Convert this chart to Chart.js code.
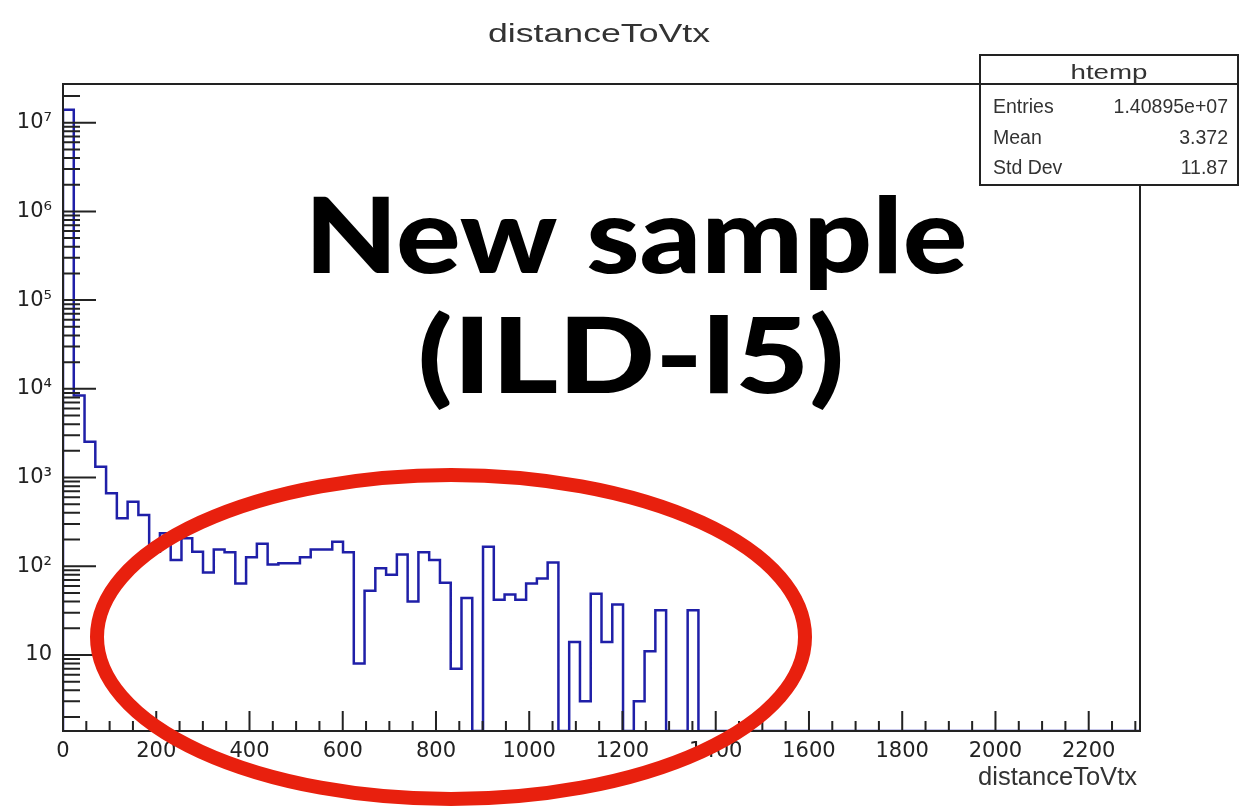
<!DOCTYPE html>
<html><head><meta charset="utf-8">
<script src="https://cdn.jsdelivr.net/npm/chart.js@4.4.1/dist/chart.umd.min.js"></script>
<style>html,body{margin:0;padding:0;background:#fff}#wrap{width:1239px;height:807px;position:relative}</style>
</head><body><div id="wrap"><canvas id="c"></canvas></div>
<script>
// ---------------- data ----------------
const chartTitle = 'distanceToVtx';
const xAxisTitle = 'distanceToVtx';
const xMin = 0;
const xMax = 2310;
const nBins = 100;
// histogram bin contents (100 bins of width 23.1)
const counts = [
  14000000, 8400, 2535, 1325, 665, 347, 535, 378, 146, 235,
  118, 207, 146, 85, 155, 144, 64, 126, 179, 105,
  108, 108, 126, 155, 155, 189, 144, 8, 53, 95,
  80, 136, 40, 144, 118, 65, 7, 44, 0, 166,
  42, 48, 42, 64, 73, 110, 0, 14, 3, 49,
  14, 37, 0, 3, 11, 32, 0, 0, 32, 0,
  0, 0, 0, 0, 0, 0, 0, 0, 0, 0,
  0, 0, 0, 0, 0, 0, 0, 0, 0, 0,
  0, 0, 0, 0, 0, 0, 0, 0, 0, 0,
  0, 0, 0, 0, 0, 0, 0, 0, 0, 0
];
const xTickValues = [0, 200, 400, 600, 800, 1000, 1200, 1400, 1600, 1800, 2000, 2200];
const xTickLabels = ['0', '200', '400', '600', '800', '1000', '1200', '1400', '1600', '1800', '2000', '2200'];
const xMinorStep = 50;
const yMin = 1.39;
const yMax = 2.73e7;
const yTickValues = [10, 100, 1000, 10000, 100000, 1000000, 10000000];
const yTickLabels = ['10', '10²', '10³', '10⁴', '10⁵', '10⁶', '10⁷'];
const statsName = 'htemp';
const statsLabels = ['Entries', 'Mean', 'Std Dev'];
const statsValues = ['1.40895e+07', '3.372', '11.87'];
const noteLines = ['New sample', '(ILD-l5)'];

// ---------------- build step points ----------------
const binW = (xMax - xMin) / nBins;
const stepPts = [{x: xMin, y: yMin}];
counts.forEach((c, i) => stepPts.push({x: xMin + i * binW, y: c > 0 ? c : yMin}));
stepPts.push({x: xMax, y: yMin});

function stretchText(ctx, text, x, y, font, color, width, align) {
  ctx.save();
  ctx.font = font;
  ctx.fillStyle = color;
  ctx.textBaseline = 'alphabetic';
  const w = ctx.measureText(text).width;
  const s = width ? width / w : 1;
  ctx.translate(x, y);
  ctx.scale(s, 1);
  ctx.textAlign = align;
  ctx.fillText(text, 0, 0);
  ctx.restore();
}

const framePlugin = {
  id: 'frame',
  afterDatasetsDraw(chart) {
    const ctx = chart.ctx, a = chart.chartArea, xs = chart.scales.x, ys = chart.scales.y;
    ctx.save();
    ctx.strokeStyle = '#222';
    ctx.lineWidth = 2;
    ctx.beginPath();
    for (let v = xMin; v <= xMax; v += xMinorStep) {
      const px = xs.getPixelForValue(v);
      const L = (v % 200 === 0) ? 20 : 10;
      ctx.moveTo(px, a.bottom);
      ctx.lineTo(px, a.bottom - L);
    }
    for (let k = 0; k <= 7; k++) {
      for (let m = 1; m <= 9; m++) {
        const v = m * Math.pow(10, k);
        if (v < yMin || v > yMax) continue;
        const py = ys.getPixelForValue(v);
        const L = m === 1 ? 33 : 17;
        ctx.moveTo(a.left, py);
        ctx.lineTo(a.left + L, py);
      }
    }
    ctx.stroke();
    ctx.strokeRect(a.left, a.top, a.right - a.left, a.bottom - a.top);
    ctx.restore();
  },
  afterDraw(chart) {
    const ctx = chart.ctx;
    // title
    stretchText(ctx, chartTitle, 599, 41.5, '26px "Liberation Sans"', '#333', 222, 'center');
    // axis title
    stretchText(ctx, xAxisTitle, 1137, 785, '25px "Liberation Sans"', '#333', 159, 'right');
    // stats box
    ctx.save();
    ctx.fillStyle = '#fff';
    ctx.fillRect(980, 55, 258, 130);
    ctx.strokeStyle = '#222';
    ctx.lineWidth = 2;
    ctx.strokeRect(980, 55, 258, 130);
    ctx.beginPath();
    ctx.moveTo(980, 84); ctx.lineTo(1238, 84);
    ctx.stroke();
    ctx.restore();
    stretchText(ctx, statsName, 1109, 78.5, '21px "Liberation Sans"', '#333', 77, 'center');
    const rowY = [113, 143.5, 174];
    statsLabels.forEach((t, i) => stretchText(ctx, t, 993, rowY[i], '19.5px "Liberation Sans"', '#333', 0, 'left'));
    statsValues.forEach((t, i) => stretchText(ctx, t, 1228, rowY[i], '19.5px "Liberation Sans"', '#333', 0, 'right'));
    // red ellipse
    ctx.save();
    ctx.strokeStyle = '#e8200e';
    ctx.lineWidth = 14;
    ctx.beginPath();
    ctx.ellipse(451, 637, 354, 162, 0, 0, Math.PI * 2);
    ctx.stroke();
    ctx.restore();
    // big note text
    stretchText(ctx, noteLines[0], 636, 273, '900 105px Lato', '#000', 663, 'center');
    stretchText(ctx, noteLines[1], 631, 393, '900 105px Lato', '#000', 427, 'center');
  }
};

new Chart(document.getElementById('c'), {
  type: 'line',
  data: {
    datasets: [{
      data: stepPts,
      stepped: 'before',
      borderColor: '#1f1fa8',
      borderWidth: 2.5,
      pointRadius: 0,
      fill: false,
      tension: 0
    }]
  },
  options: {
    responsive: true,
    maintainAspectRatio: false,
    animation: false,
    layout: {padding: {left: 0, top: 84, right: 99, bottom: 0}},
    plugins: {legend: {display: false}, tooltip: {enabled: false}, title: {display: false}},
    scales: {
      x: {
        type: 'linear', min: xMin, max: xMax,
        grid: {display: false}, border: {display: false},
        afterBuildTicks: s => { s.ticks = xTickValues.map(v => ({value: v})); },
        afterFit: s => { s.height = 76; },
        ticks: {
          autoSkip: false, maxRotation: 0, padding: 0,
          color: '#222', font: {family: 'DejaVu Sans', size: 21},
          callback: (v) => { const i = xTickValues.indexOf(v); return i >= 0 ? xTickLabels[i] : ''; }
        }
      },
      y: {
        type: 'logarithmic', min: yMin, max: yMax,
        grid: {display: false}, border: {display: false},
        afterBuildTicks: s => { s.ticks = yTickValues.map(v => ({value: v})); },
        afterFit: s => { s.width = 63; },
        ticks: {
          autoSkip: false, padding: 3,
          color: '#222', font: {family: 'DejaVu Sans', size: 21},
          callback: (v) => { const i = yTickValues.indexOf(v); return i >= 0 ? yTickLabels[i] : ''; }
        }
      }
    }
  },
  plugins: [framePlugin]
});
</script>
</body></html>
